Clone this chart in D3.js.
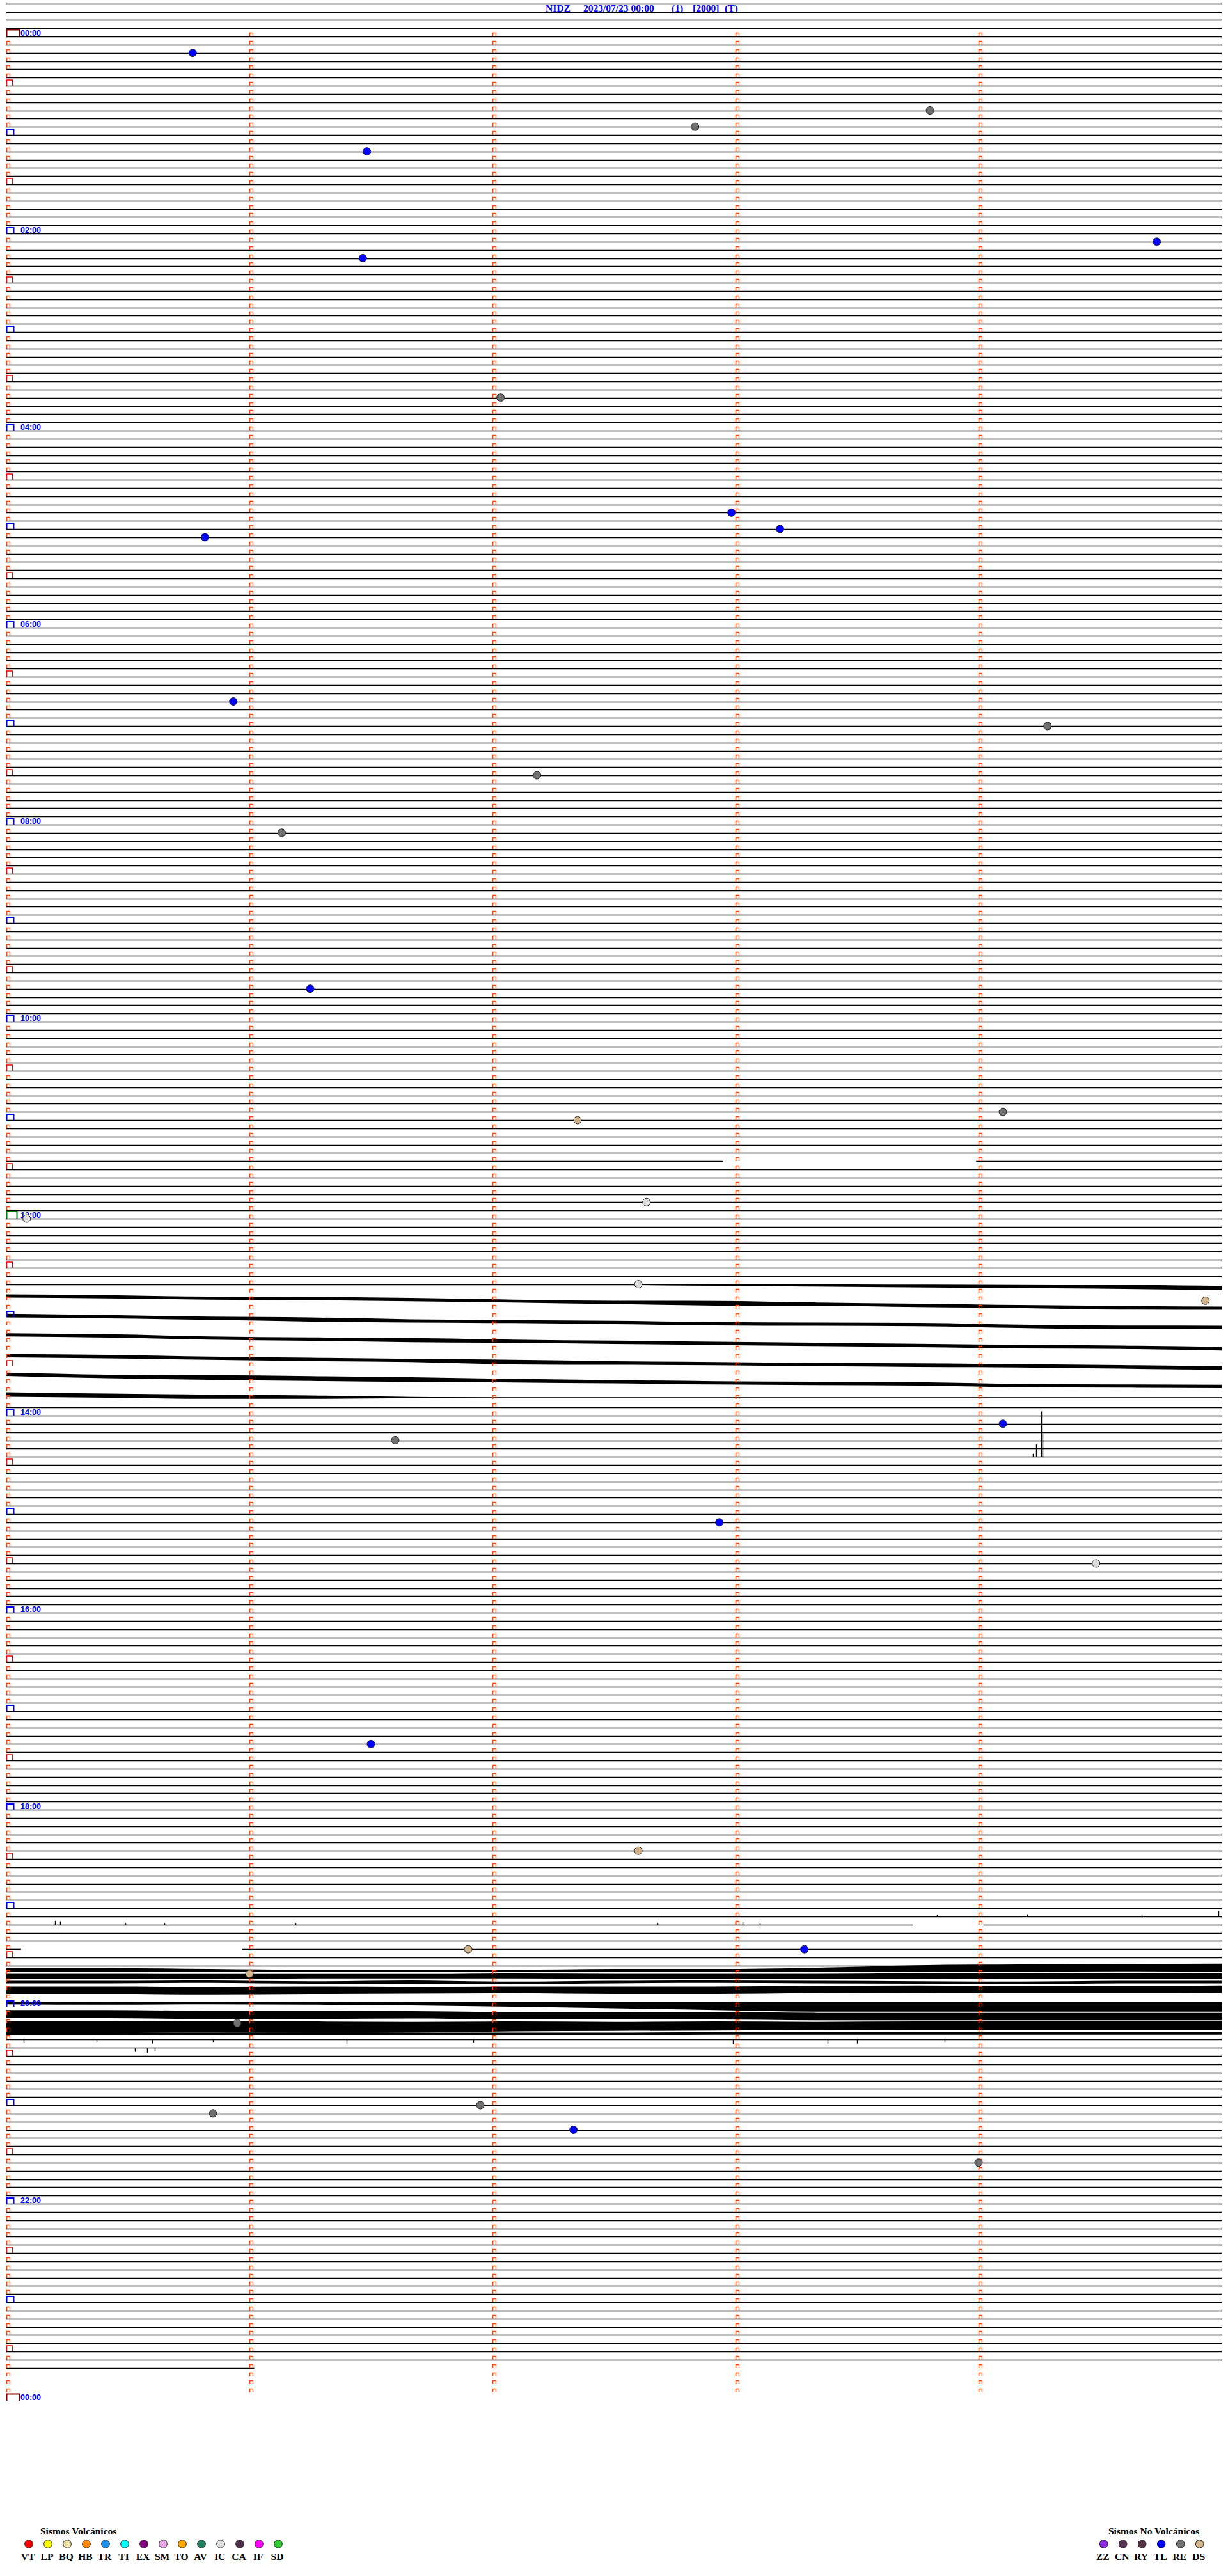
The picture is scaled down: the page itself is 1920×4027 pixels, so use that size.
<!DOCTYPE html>
<html><head><meta charset="utf-8">
<script src="https://cdn.jsdelivr.net/npm/d3@7"></script>
<style>body{margin:0;background:#fff}svg{display:block}</style>
</head><body>
<svg id="c" width="1920" height="4027"></svg>
<script>
// ---------------- data ----------------
const titleParts = ["NIDZ", "2023/07/23 00:00", "(1)", "[2000]", "(T)"];
const ROWS = 288;              // 5-minute rows in a day
const MINUTES_PER_ROW = 5;
const PRE_ROWS = 4;            // rows drawn above 00:00
const dataEnd = {row: 284, minute: 1.02};
const hourLabels = ["00:00","02:00","04:00","06:00","08:00","10:00","12:00","14:00","16:00","18:00","20:00","22:00","00:00"];

// flat-line gaps: [row, fromMinute, toMinute]
const gaps = [[137, 2.95, 3.99], [152, 2.6, 5], [230, 3.73, 4.02], [233, 0.06, 0.97]];
// rows whose baseline is replaced by a drifting trace or has no data
const hiddenRows = [153,154,155,156,157,158,159,160,161,162,163,164,165,166,237,238,239,240,241,242,243];

// drifting noisy traces: level in row units, amp = half thickness (row units)
const traceRows   = [152, 153, 154, 155, 156, 157, 158];
const traceFrom   = [2.6, 0, 0, 0, 0, 0, 0];
const traceLevels = [
  [152.05,152.1,152.15,152.2,152.25,152.3,152.35,152.45],
  [153.43,153.53,153.69,153.74,153.87,154.05,154.21,154.31,154.42,154.57,154.7,154.86,154.91],
  [155.82,155.95,156.14,156.29,156.47,156.55,156.65,156.81,156.86,156.91,157.12,157.25,157.25],
  [158.16,158.29,158.55,158.68,158.81,158.94,159.07,159.2,159.33,159.46,159.59,159.67,159.85],
  [160.7,160.81,161.01,161.15,161.28,161.48,161.59,161.67,161.79,161.85,161.93,162.06,162.19],
  [162.96,163.23,163.36,163.48,163.61,163.74,163.87,164.01,164.08,164.13,164.34,164.4,164.44],
  [165.43,165.57,165.7,165.75,165.8,165.83,165.83,165.83,165.83,165.83,165.83,165.83,165.83]
];
const traceAmps = [
  [0.04,0.08,0.12,0.15,0.18,0.2,0.25,0.25],
  [0.2,0.2,0.18,0.2,0.2,0.18,0.2,0.28,0.2,0.2,0.18,0.22,0.2],
  [0.22,0.2,0.2,0.25,0.2,0.18,0.2,0.2,0.2,0.2,0.2,0.22,0.2],
  [0.2,0.2,0.2,0.2,0.25,0.2,0.2,0.2,0.2,0.2,0.22,0.2,0.22],
  [0.2,0.22,0.2,0.2,0.2,0.28,0.22,0.2,0.2,0.22,0.2,0.22,0.22],
  [0.2,0.22,0.28,0.3,0.28,0.22,0.2,0.2,0.2,0.2,0.2,0.2,0.2],
  [0.28,0.25,0.25,0.2,0.08,0.03,0.03,0.03,0.03,0.03,0.03,0.03,0.03]
];

// the saturated band around 19:40-20:20 (level / half thickness, row units)
const bandLevels = [
  [235.55,235.55,235.6,235.65,235.65,235.65,235.6,235.6,235.5,235.35,235.3,235.25,235.25],
  [236.3,236.3,236.35,236.3,236.3,236.25,236.3,236.3,236.3,236.25,236.3,236.3,236.3],
  [237.0,237.0,236.95,237.05,237.0,237.1,237.0,236.95,237.0,237.05,237.1,237.0,237.0],
  [238.0,238.0,238.05,238.0,238.0,237.95,238.0,238.0,237.9,237.85,237.9,237.9,237.85],
  [239.55,239.6,239.55,239.6,239.65,239.7,239.8,239.9,240.0,240.0,240.0,240.0,240.0],
  [240.9,240.9,241.0,241.0,241.0,241.1,241.1,241.1,241.2,241.2,241.2,241.2,241.2],
  [242.5,242.5,242.45,242.5,242.5,242.4,242.4,242.35,242.35,242.3,242.3,242.3,242.3],
  [243.35,243.35,243.3,243.3,243.3,243.3,243.3,243.25,243.25,243.25,243.25,243.25,243.25]
];
const bandAmps = [
  [0.25,0.25,0.2,0.15,0.15,0.15,0.2,0.2,0.25,0.4,0.45,0.45,0.5],
  [0.3,0.3,0.3,0.25,0.25,0.3,0.3,0.3,0.3,0.35,0.35,0.35,0.35],
  [0.15,0.15,0.15,0.15,0.2,0.15,0.15,0.15,0.15,0.15,0.15,0.15,0.15],
  [0.45,0.45,0.45,0.45,0.4,0.4,0.45,0.45,0.45,0.45,0.45,0.45,0.45],
  [0.15,0.15,0.15,0.15,0.2,0.3,0.4,0.5,0.6,0.6,0.6,0.6,0.6],
  [0.5,0.5,0.5,0.5,0.45,0.45,0.45,0.45,0.45,0.45,0.45,0.45,0.45],
  [0.7,0.7,0.7,0.7,0.65,0.6,0.55,0.55,0.5,0.5,0.5,0.5,0.5],
  [0.15,0.15,0.15,0.15,0.15,0.15,0.15,0.15,0.15,0.15,0.15,0.15,0.15]
];

// isolated spikes: [row, minute, height in rows (negative = downward)]
const spikes = [
  [173,4.258,5.5],[173,4.264,3.0],[173,4.237,1.5],[173,4.224,0.35],
  [229,3.83,0.2],[229,4.2,0.25],[229,4.67,0.25],[229,4.986,0.65],
  [230,0.2,0.45],[230,0.22,0.4],[230,0.49,0.2],[230,0.65,0.2],[230,1.19,0.2],[230,2.68,0.2],[230,3.0,0.4],[230,3.03,0.35],[230,3.1,0.2],
  [244,0.07,-0.4],[244,0.37,-0.3],[244,0.6,-0.5],[244,0.85,-0.3],[244,1.4,-0.5],[244,1.92,-0.35],[244,2.99,-0.6],[244,3.38,-0.6],[244,3.5,-0.5],[244,3.86,-0.3],
  [245,0.53,-0.5],[245,0.58,-0.6],[245,0.61,-0.4]
];

// detected events
const eventTimes = ["00:10:46","00:57:50","00:48:48","01:11:29","02:09:44","02:16:28","03:42:02","04:52:59","05:03:11","05:05:49",
  "06:45:56","07:04:17","07:32:11","08:06:08","09:41:15","11:02:21","10:59:06","11:52:38","12:00:05","12:42:36",
  "12:54:56","14:09:06","14:16:36","15:07:56","15:34:29","17:21:30","18:27:36","19:26:54","19:28:17","19:41:00",
  "20:10:57","21:05:51","21:01:57","21:17:20","21:39:00"];
const eventTypes = ["TL","RE","RE","TL","TL","TL","RE","TL","TL","TL",
  "TL","RE","RE","RE","TL","DS","RE","IC","IC","IC",
  "DS","TL","RE","TL","IC","TL","DS","DS","TL","DS",
  "RE","RE","RE","TL","RE"];

const volcanicTypes = ["VT","LP","BQ","HB","TR","TI","EX","SM","TO","AV","IC","CA","IF","SD"];
const volcanicColors = ["#FF0000","#FFFF00","#F0E2A8","#FF8810","#2090F0","#00FFFF","#800080","#EEAAEE","#FFA500","#208060","#DCDCDC","#4B2A48","#FF00FF","#32CD32"];
const nonVolcanicTypes = ["ZZ","CN","RY","TL","RE","DS"];
const nonVolcanicColors = ["#8A2BE2","#553355","#553344","#0000FF","#707070","#D2B48C"];

// ---------------- drawing ----------------
const svg = d3.select("#c");
const x = d3.scaleLinear().domain([0, MINUTES_PER_ROW]).range([10, 1910]);
const y = d3.scaleLinear().domain([0, ROWS]).range([57, 3753]);
const yPix = v => Math.round(y(v)) + 0.5;   // baseline position at a pixel centre
const typeColor = new Map([...volcanicTypes.map((t,i)=>[t,volcanicColors[i]]), ...nonVolcanicTypes.map((t,i)=>[t,nonVolcanicColors[i]])]);

// title
const titleX = [853, 912, 1050, 1083, 1133];
svg.append("g").selectAll("text").data(titleParts).join("text")
  .attr("x",(d,i)=>titleX[i]).attr("y",17.5)
  .attr("font-family","Liberation Serif, Times New Roman, serif").attr("font-weight","bold")
  .attr("font-size",15.5).attr("fill","#0000FF").text(d=>d);

// baselines
const segs = [];
for (let r = -PRE_ROWS; r <= dataEnd.row; r++) {
  if (hiddenRows.includes(r)) continue;
  const end = r === dataEnd.row ? dataEnd.minute : MINUTES_PER_ROW;
  let pieces = [[0, end]];
  gaps.filter(g => g[0] === r).forEach(g => {
    pieces = pieces.flatMap(([a,b]) => {
      const out = [];
      if (g[1] > a) out.push([a, Math.min(b, g[1])]);
      if (g[2] < b) out.push([Math.max(a, g[2]), b]);
      return out;
    });
  });
  pieces.forEach(p => segs.push({r, a:p[0], b:p[1]}));
}
svg.append("g").selectAll("line").data(segs).join("line")
  .attr("x1",d=>x(d.a)).attr("x2",d=>x(d.b))
  .attr("y1",d=>yPix(d.r)).attr("y2",d=>yPix(d.r))
  .attr("stroke","#000").attr("stroke-width",1.7);

// traces & bands
function drawBand(g, from, to, levels, amps) {
  const n = levels.length;
  const pts = levels.map((v,i)=>({m: from + (to-from)*i/(n-1), v, a: amps[i]}));
  g.append("path").datum(pts)
    .attr("d", d3.area().x(d=>x(d.m)).y0(d=>y(d.v-d.a)).y1(d=>y(d.v+d.a)).curve(d3.curveMonotoneX))
    .attr("fill","#000");
  g.append("path").datum(pts)
    .attr("d", d3.line().x(d=>x(d.m)).y(d=>y(d.v)).curve(d3.curveMonotoneX))
    .attr("fill","none").attr("stroke","#000").attr("stroke-width",1.6);
}
const tg = svg.append("g");
traceRows.forEach((r,i)=>drawBand(tg, traceFrom[i], MINUTES_PER_ROW, traceLevels[i], traceAmps[i]));
bandLevels.forEach((lv,i)=>drawBand(tg, 0, MINUTES_PER_ROW, lv, bandAmps[i]));

// spikes
svg.append("g").selectAll("line").data(spikes).join("line")
  .attr("x1",d=>Math.round(x(d[1]))+0.5).attr("x2",d=>Math.round(x(d[1]))+0.5)
  .attr("y1",d=>yPix(d[0])).attr("y2",d=>y(d[0]-d[2]))
  .attr("stroke","#000").attr("stroke-width",1.4);

// minute markers
const markers = [];
for (let r = 0; r < ROWS; r++) {
  for (let k = 0; k < MINUTES_PER_ROW; k++) {
    if (k === 0 && r % 6 === 0) continue;
    markers.push({r,k});
  }
}
svg.append("g").selectAll("path").data(markers).join("path")
  .attr("d", d => { const x0 = Math.round(x(d.k))+0.5, y0 = Math.round(y(d.r)); return `M${x0},${y0}V${y0-5.5}H${x0+5}V${y0}`; })
  .attr("fill","none").attr("stroke","#FF4000").attr("stroke-width",1.4);

// hour / half-hour boxes
const boxes = [];
for (let r = 0; r <= ROWS; r += 6) {
  let c, w, h, sw;
  if (r % 12 === 6) { c="#FF0000"; w=9; h=9; sw=1.3; }
  else if (r % 288 === 0) { c="#800000"; w=19.5; h=10.5; sw=2; }
  else if (r === 144) { c="#008000"; w=16; h=11; sw=2; }
  else { c="#0000FF"; w=11; h=9; sw=2; }
  boxes.push({r,c,w,h,sw});
}
svg.append("g").selectAll("path").data(boxes).join("path")
  .attr("d", d => { const x0 = x(0)+0.5, y0 = Math.round(y(d.r)); return `M${x0},${y0}V${y0-d.h}H${x0+d.w}V${y0}`; })
  .attr("fill","none").attr("stroke",d=>d.c).attr("stroke-width",d=>d.sw);

// hour labels
svg.append("g").selectAll("text").data(hourLabels).join("text")
  .attr("x", 32).attr("y",(d,i)=>Math.round(y(i*24))-1)
  .attr("font-family","Liberation Sans, Arial, sans-serif").attr("font-weight","bold")
  .attr("font-size",12.5).attr("fill","#0000FF").text(d=>d);

// events
const events = eventTimes.map((t,i)=>{
  const [h,m,s] = t.split(":").map(Number);
  const mins = h*60 + m + s/60;
  const row = Math.floor(mins / MINUTES_PER_ROW);
  return {row, minute: mins - row*MINUTES_PER_ROW, type: eventTypes[i]};
});
svg.append("g").selectAll("circle").data(events).join("circle")
  .attr("cx",d=>x(d.minute)).attr("cy",d=>y(d.row)).attr("r",6)
  .attr("fill",d=>typeColor.get(d.type)).attr("stroke","#222").attr("stroke-width",1);

// legends
function legend(title, titleX, types, colors, x0) {
  const g = svg.append("g");
  g.append("text").attr("x",titleX).attr("y",3962)
    .attr("font-family","Liberation Serif, Times New Roman, serif").attr("font-weight","bold")
    .attr("font-size",15.5).attr("fill","#000").text(title);
  g.selectAll("circle").data(types).join("circle")
    .attr("cx",(d,i)=>x0+30*i).attr("cy",3977).attr("r",6.3)
    .attr("fill",(d,i)=>colors[i]).attr("stroke","#222").attr("stroke-width",1);
  g.selectAll("text.l").data(types).join("text").attr("class","l")
    .attr("x",(d,i)=>x0+30*i-1.5).attr("y",4001.5).attr("text-anchor","middle")
    .attr("font-family","Liberation Serif, Times New Roman, serif").attr("font-weight","bold")
    .attr("font-size",15.5).attr("fill","#000").text(d=>d);
}
legend("Sismos Volcánicos", 63, volcanicTypes, volcanicColors, 45);
legend("Sismos No Volcánicos", 1733, nonVolcanicTypes, nonVolcanicColors, 1725.7);
</script>
</body></html>
